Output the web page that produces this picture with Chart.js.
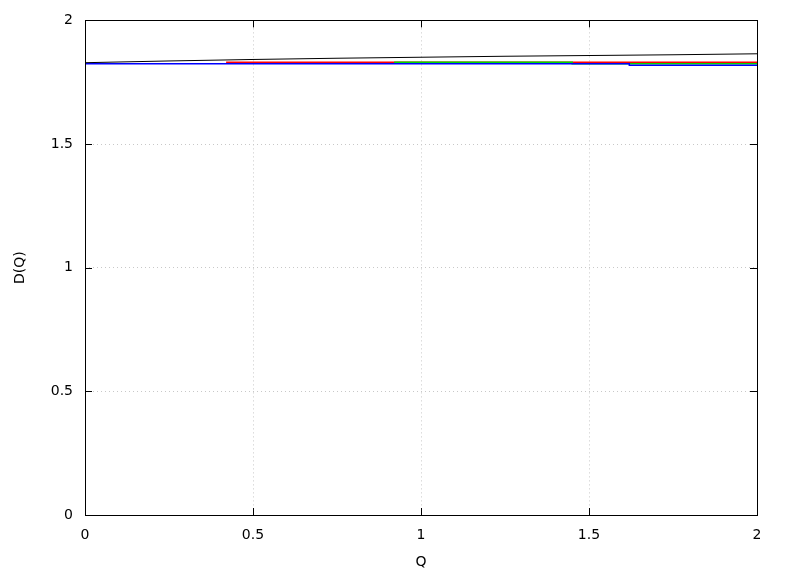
<!DOCTYPE html>
<html lang="en">
  <head>
    <meta charset="UTF-8" />
    <title>D(Q)</title>
    <script src="https://cdn.jsdelivr.net/npm/chart.js@4.4.1/dist/chart.umd.min.js"></script>
    <style>
      html, body { margin: 0; padding: 0; background: #fff; }
      #wrap { width: 788px; height: 576px; }
    </style>
  </head>
  <body>
    <div id="wrap"><canvas id="chart" width="788" height="576"></canvas></div>
    <script>
      // tick labels
      const xTicks = [0, 0.5, 1, 1.5, 2];
      const yTicks = [0, 0.5, 1, 1.5, 2];

      // black curve
      const blackQ = [0, 0.25, 0.5, 0.75, 1, 1.25, 1.5, 1.75, 2];
      const blackD = [1.829, 1.836, 1.842, 1.847, 1.851, 1.855, 1.858, 1.861, 1.865];

      // coloured pieces
      const blueQ = [0, 1.62, 1.62, 2];
      const blueD = [1.825, 1.825, 1.819, 1.819];
      const greenQ = [0.92, 1.45, 1.45, 2];
      const greenD = [1.831, 1.831, 1.825, 1.825];
      const redQ = [0.42, 2];
      const redD = [1.831, 1.831];

      const pts = (xs, ys) => xs.map((x, i) => ({ x: x, y: ys[i] }));

      const font = { family: 'DejaVu Sans', size: 14 };

      // gnuplot style frame + inward ticks
      const framePlugin = {
        id: 'frame',
        afterDraw(chart) {
          const { ctx, chartArea: a, scales } = chart;
          ctx.save();
          ctx.strokeStyle = '#000';
          ctx.lineWidth = 1;
          ctx.beginPath();
          xTicks.forEach((t) => {
            const px = Math.round(scales.x.getPixelForValue(t)) + 0.5;
            ctx.moveTo(px, a.bottom); ctx.lineTo(px, a.bottom - 7);
            ctx.moveTo(px, a.top); ctx.lineTo(px, a.top + 7);
          });
          yTicks.forEach((t) => {
            const py = Math.round(scales.y.getPixelForValue(t)) + 0.5;
            ctx.moveTo(a.left, py); ctx.lineTo(a.left + 7, py);
            ctx.moveTo(a.right, py); ctx.lineTo(a.right - 7, py);
          });
          ctx.stroke();
          ctx.strokeRect(Math.round(a.left) + 0.5, Math.round(a.top) + 0.5,
            Math.round(a.right - a.left), Math.round(a.bottom - a.top));
          ctx.restore();
        }
      };

      new Chart(document.getElementById('chart'), {
        type: 'line',
        data: {
          datasets: [
            { label: 'black', data: pts(blackQ, blackD), borderColor: '#000', borderWidth: 1, order: 0 },
            { label: 'blue', data: pts(blueQ, blueD), borderColor: '#0000ff', borderWidth: 1.5, order: 1 },
            { label: 'green', data: pts(greenQ, greenD), borderColor: '#00d800', borderWidth: 1.5, order: 2 },
            { label: 'red', data: pts(redQ, redD), borderColor: '#ff0000', borderWidth: 1.5, order: 3 }
          ]
        },
        options: {
          responsive: false,
          animation: false,
          layout: { padding: { top: 18, right: 31, left: 0, bottom: 0 } },
          elements: { point: { radius: 0 }, line: { tension: 0 } },
          plugins: { legend: { display: false }, tooltip: { enabled: false } },
          scales: {
            x: {
              type: 'linear',
              min: 0, max: 2,
              afterBuildTicks: (s) => { s.ticks = xTicks.map((v) => ({ value: v })); },
              afterFit: (s) => { s.height = 61; },
              ticks: { color: '#000', font: font, padding: 12, maxRotation: 0, callback: (v) => String(v) },
              grid: { color: '#c8c8c8', drawTicks: false },
              border: { display: false, dash: [1, 3] },
              title: { display: true, text: 'Q', color: '#000', font: font, padding: 5 }
            },
            y: {
              type: 'linear',
              min: 0, max: 2,
              afterBuildTicks: (s) => { s.ticks = yTicks.map((v) => ({ value: v })); },
              afterFit: (s) => { s.width = 85; },
              ticks: { color: '#000', font: font, padding: 12, callback: (v) => String(v) },
              grid: { color: '#c8c8c8', drawTicks: false },
              border: { display: false, dash: [1, 3] },
              title: { display: true, text: 'D(Q)', color: '#000', font: font, padding: 12 }
            }
          }
        },
        plugins: [framePlugin]
      });
    </script>
  </body>
</html>
